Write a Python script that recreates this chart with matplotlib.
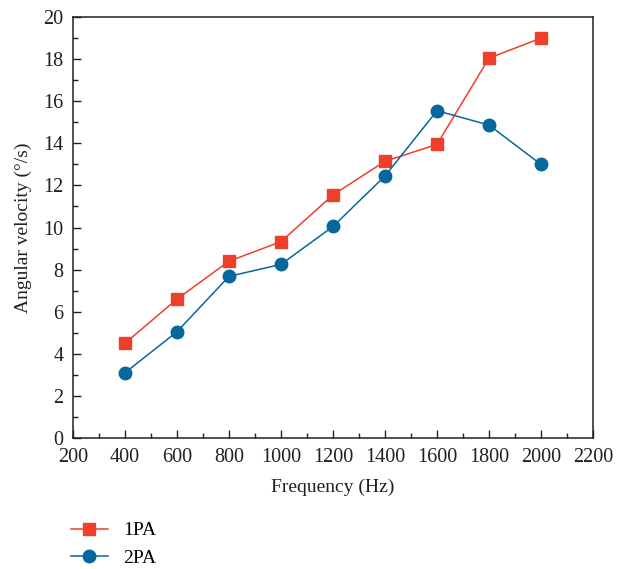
import matplotlib.pyplot as plt
from matplotlib.ticker import MultipleLocator

plt.rcParams['font.family'] = ['Liberation Serif', 'DejaVu Serif']

# Data
freq = [400, 600, 800, 1000, 1200, 1400, 1600, 1800, 2000]
pa1 = [4.5, 6.6, 8.4, 9.33, 11.55, 13.15, 13.95, 18.05, 19.0]
pa2 = [3.1, 5.05, 7.68, 8.25, 10.05, 12.45, 15.55, 14.87, 13.0]

red = '#EE3F2A'
blue = '#05679B'

fig = plt.figure(figsize=(6.27, 5.69), dpi=100)
ax = fig.add_axes([0.1164, 0.2302, 0.8294, 0.7398])

ax.plot(freq, pa1, color=red, marker='s', markersize=8.5, linewidth=1.1, label='1PA')
ax.plot(freq, pa2, color=blue, marker='o', markersize=9, linewidth=1.1, label='2PA')

ax.set_xlim(200, 2200)
ax.set_ylim(0, 20)
ax.xaxis.set_major_locator(MultipleLocator(200))
ax.xaxis.set_minor_locator(MultipleLocator(100))
ax.yaxis.set_major_locator(MultipleLocator(2))
ax.yaxis.set_minor_locator(MultipleLocator(1))
ax.tick_params(which='both', direction='in', top=False, right=False, labelsize=14.5, colors='#231f20')
ax.tick_params(which='major', length=6, width=1)
ax.tick_params(which='minor', length=3.5, width=1)
ax.tick_params(axis='x', pad=7.5)
ax.tick_params(axis='y', pad=7)
for s in ax.spines.values():
    s.set_linewidth(1.1)
    s.set_color('#231f20')

ax.set_xlabel('Frequency (Hz)', fontsize=14, color='#231f20', labelpad=8)
ax.set_ylabel('Angular velocity (°/s)', fontsize=14, color='#231f20', labelpad=8)

fig.legend(loc='upper left', bbox_to_anchor=(0.113, 0.083), frameon=False,
           borderpad=0, borderaxespad=0,
           fontsize=14, handlelength=1.9, labelspacing=0.5, handletextpad=0.8)

fig.savefig('out.png', dpi=100)
